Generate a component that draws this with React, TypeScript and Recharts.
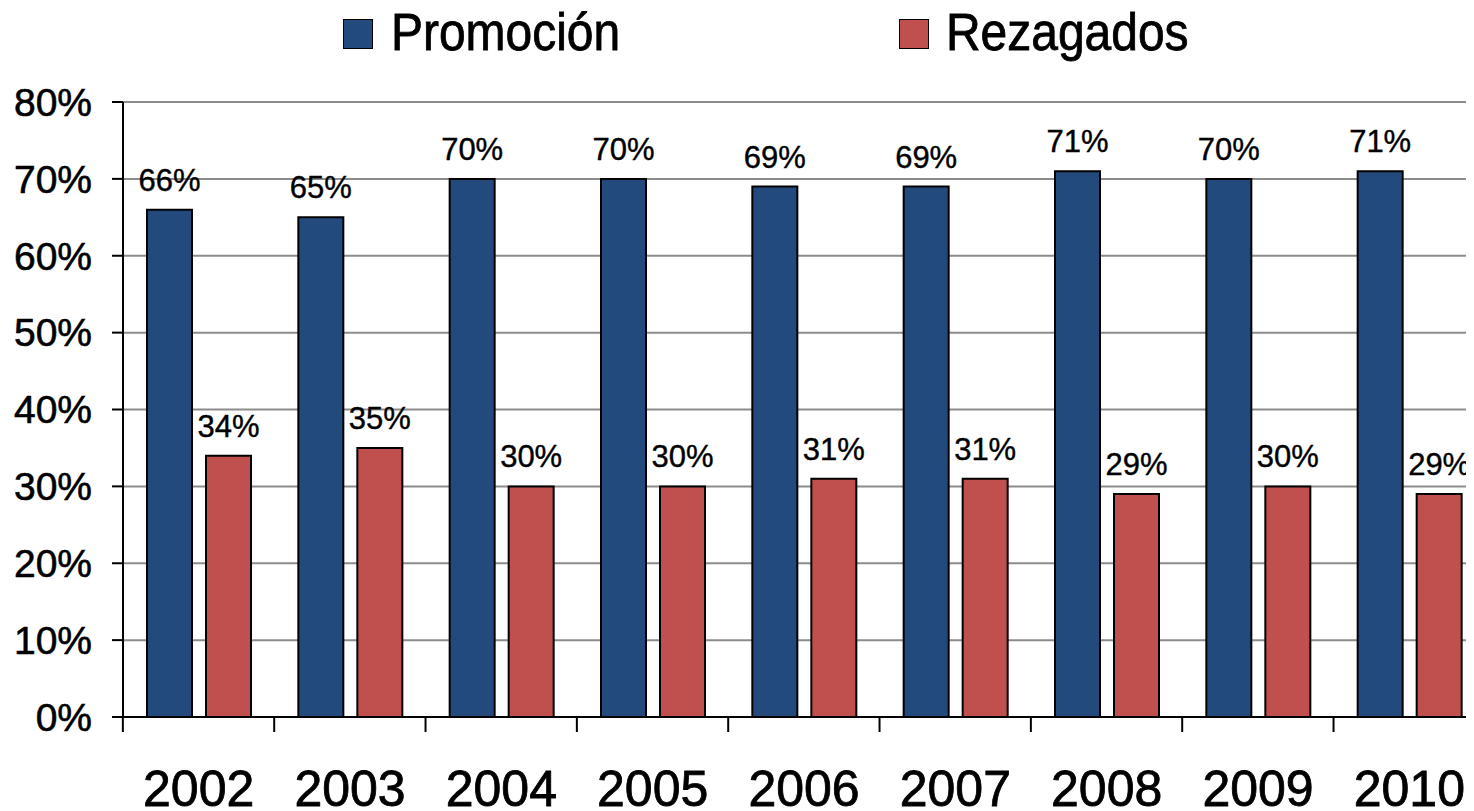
import { BarChart, Bar, XAxis, YAxis, CartesianGrid, Legend, LabelList } from 'recharts';

const years = ['2002', '2003', '2004', '2005', '2006', '2007', '2008', '2009', '2010'];
const promocion = [66, 65, 70, 70, 69, 69, 71, 70, 71];
const rezagados = [34, 35, 30, 30, 31, 31, 29, 30, 29];
const yTicks = [0, 10, 20, 30, 40, 50, 60, 70, 80];

const BLUE = '#224A7C';
const RED = '#C0504D';
const FONT = '"Liberation Sans", Arial, sans-serif';

const data = years.map((y, i) => ({ year: y, promocion: promocion[i], rezagados: rezagados[i] }));

// ticks del eje X en los bordes de cada categoría, etiqueta al centro
const YearTick = (props: any) => {
  const { x, payload, index } = props;
  const half = 75.8;
  const axisY = 717;
  return (
    <g>
      <line x1={x - half} x2={x - half} y1={axisY} y2={axisY + 15} stroke="#000" strokeWidth={2} />
      {index === years.length - 1 && (
        <line x1={x + half} x2={x + half} y1={axisY} y2={axisY + 15} stroke="#000" strokeWidth={2} />
      )}
      <text
        x={x}
        y={806}
        textAnchor="middle"
        fontSize={50}
        fontFamily={FONT}
        fill="#000"
        stroke="#000"
        strokeWidth={0.8}
      >
        {payload.value}
      </text>
    </g>
  );
};

const legendItems = [
  { label: 'Promoción', color: BLUE, box: 343, text: 391 },
  { label: 'Rezagados', color: RED, box: 899, text: 946 },
];

const renderLegend = () => (
  <div style={{ position: 'relative', width: 1500, height: 60 }}>
    {legendItems.map((it) => (
      <div key={it.label}>
        <div
          style={{
            position: 'absolute',
            left: it.box,
            top: 19,
            width: 28,
            height: 28,
            background: it.color,
            border: '1.5px solid #000',
          }}
        />
        <div
          style={{
            position: 'absolute',
            left: it.text,
            top: 4,
            fontSize: 51,
            fontFamily: FONT,
            color: '#000',
            lineHeight: '58px',
            whiteSpace: 'nowrap',
            transform: 'scaleX(0.94)',
            transformOrigin: 'left center',
            WebkitTextStroke: '0.8px #000',
          }}
        >
          {it.label}
        </div>
      </div>
    ))}
  </div>
);

const labelStyle = { fontSize: 31, fontFamily: FONT, fill: '#000', stroke: '#000', strokeWidth: 0.4 };

export default function App() {
  return (
    <div style={{ marginLeft: -8, marginTop: -8, width: 1474, height: 811, overflow: 'hidden', background: '#fff' }}>
      <BarChart
        width={1500}
        height={811}
        data={data}
        margin={{ top: 42, right: 15, bottom: 0, left: 0 }}
        barGap={14}
        barSize={45}
      >
        <Legend
          verticalAlign="top"
          align="left"
          content={renderLegend}
          wrapperStyle={{ top: 0, left: 0, width: 1500, height: 60 }}
        />
        <CartesianGrid horizontal vertical={false} stroke="#8c8c8c" strokeWidth={2} />
        <XAxis
          dataKey="year"
          height={94}
          tickLine={false}
          axisLine={{ stroke: '#000', strokeWidth: 2 }}
          tick={<YearTick />}
          interval={0}
        />
        <YAxis
          width={123}
          domain={[0, 80]}
          ticks={yTicks}
          interval={0}
          tickFormatter={(v: number) => `${v}%`}
          tickSize={11}
          tickMargin={20}
          tickLine={{ stroke: '#000', strokeWidth: 2 }}
          axisLine={{ stroke: '#000', strokeWidth: 2 }}
          tick={{ fontSize: 39, fontFamily: FONT, fill: '#000', stroke: '#000', strokeWidth: 0.6 }}
        />
        <Bar dataKey="promocion" name="Promoción" fill={BLUE} stroke="#000" strokeWidth={2} isAnimationActive={false}>
          <LabelList
            dataKey="promocion"
            position="top"
            offset={19}
            formatter={(v: any) => `${v}%`}
            style={labelStyle}
          />
        </Bar>
        <Bar dataKey="rezagados" name="Rezagados" fill={RED} stroke="#000" strokeWidth={2} isAnimationActive={false}>
          <LabelList
            dataKey="rezagados"
            position="top"
            offset={19}
            formatter={(v: any) => `${v}%`}
            style={labelStyle}
          />
        </Bar>
      </BarChart>
    </div>
  );
}
